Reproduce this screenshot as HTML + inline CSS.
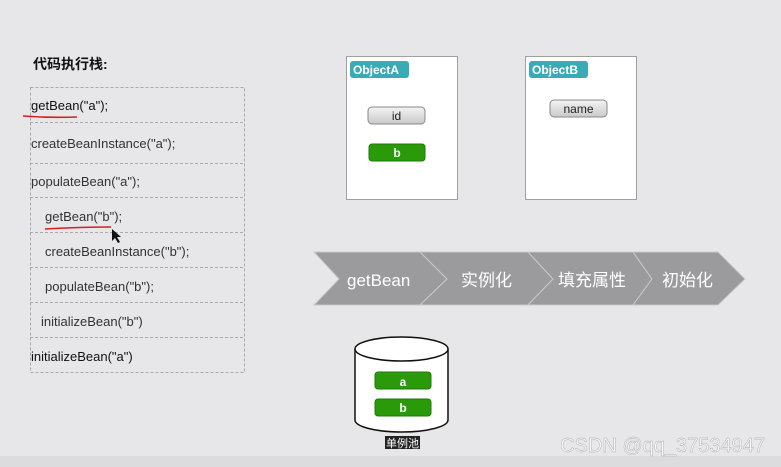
<!DOCTYPE html>
<html><head><meta charset="utf-8"><style>
html,body{margin:0;padding:0;background:#e7e6e9;}
svg{display:block;}
text{font-family:"Liberation Sans","Noto Sans CJK SC",sans-serif;}
</style></head><body>
<svg width="781" height="467" viewBox="0 0 781 467" xmlns="http://www.w3.org/2000/svg">
<defs>
<linearGradient id="gb" x1="0" y1="0" x2="0" y2="1"><stop offset="0" stop-color="#f4f4f4"/><stop offset="1" stop-color="#c9c9c9"/></linearGradient>
</defs>
<rect width="781" height="467" fill="#e7e6e9"/>
<rect y="456" width="781" height="11" fill="#dcdbde"/>
<text x="33" y="69" font-size="14" font-weight="bold" fill="#111">代码执行栈:</text>
<g fill="none" stroke="#a9a9a9" stroke-dasharray="3,2" stroke-width="1">
<rect x="30.5" y="87.5" width="214" height="285"/>
<line x1="30" y1="122.5" x2="245" y2="122.5"/>
<line x1="30" y1="163.5" x2="245" y2="163.5"/>
<line x1="30" y1="197.5" x2="245" y2="197.5"/>
<line x1="30" y1="232.5" x2="245" y2="232.5"/>
<line x1="30" y1="267.5" x2="245" y2="267.5"/>
<line x1="30" y1="302.5" x2="245" y2="302.5"/>
<line x1="30" y1="337.5" x2="245" y2="337.5"/>
</g>
<g font-size="13" fill="#333">
<text x="31" y="110" fill="#111">getBean("a");</text>
<text x="31" y="148">createBeanInstance("a");</text>
<text x="31" y="186">populateBean("a");</text>
<text x="45" y="221">getBean("b");</text>
<text x="45" y="256">createBeanInstance("b");</text>
<text x="45" y="291">populateBean("b");</text>
<text x="41" y="326">initializeBean("b")</text>
<text x="31" y="361" fill="#111">initializeBean("a")</text>
</g>
<path d="M23 116 Q50 118 77 117" stroke="#d42020" stroke-width="1.6" fill="none"/>
<path d="M45 229 Q80 227 111 227" stroke="#d42020" stroke-width="1.6" fill="none"/>
<path d="M112 229 L112 241 L115 238 L118 243 L120 242 L117 237 L121 237 Z" fill="#111"/>
<rect x="346.5" y="56.5" width="111" height="143" fill="#fff" stroke="#a0a0a0"/>
<rect x="350" y="61" width="59" height="17" rx="3" fill="#3aabb5"/>
<text x="353" y="74" font-size="12" font-weight="bold" fill="#fff">ObjectA</text>
<rect x="368" y="107" width="57" height="17" rx="4" fill="url(#gb)" stroke="#888"/>
<text x="396.5" y="120" font-size="12" fill="#222" text-anchor="middle">id</text>
<rect x="369" y="144" width="56" height="17" rx="3" fill="#2a9a0a" stroke="#1f7a08"/>
<text x="397" y="157" font-size="12" font-weight="bold" fill="#fff" text-anchor="middle">b</text>
<rect x="525.5" y="56.5" width="111" height="143" fill="#fff" stroke="#a0a0a0"/>
<rect x="529" y="61" width="59" height="17" rx="3" fill="#3aabb5"/>
<text x="532" y="74" font-size="12" font-weight="bold" fill="#fff">ObjectB</text>
<rect x="550" y="100" width="57" height="17" rx="4" fill="url(#gb)" stroke="#888"/>
<text x="578.5" y="113" font-size="12" fill="#222" text-anchor="middle">name</text>
<g fill="#9b9a9c" stroke="#c9c8cb" stroke-width="1">
<path d="M314 252 L420 252 L447 279 L420 305 L314 305 L339 279 Z"/>
<path d="M420 252 L528 252 L553 279 L528 305 L420 305 L447 279 Z"/>
<path d="M528 252 L633 252 L652 279 L633 305 L528 305 L553 279 Z"/>
<path d="M633 252 L718 252 L745 279 L718 305 L633 305 L652 279 Z" />
</g>
<g font-size="17" fill="#fff">
<text x="347" y="286">getBean</text>
<text x="461" y="286">实例化</text>
<text x="558" y="286">填充属性</text>
<text x="662" y="286">初始化</text>
</g>
<path d="M355 349 L355 420 A46.5 12 0 0 0 448 420 L448 349" fill="#fff" stroke="#111" stroke-width="1.5"/>
<ellipse cx="401.5" cy="349" rx="46.5" ry="12" fill="#fff" stroke="#111" stroke-width="1.5"/>
<rect x="375" y="372" width="56" height="17" rx="3" fill="#2a9a0a" stroke="#1f7a08"/>
<text x="403" y="386" font-size="12" font-weight="bold" fill="#fff" text-anchor="middle">a</text>
<rect x="375" y="399" width="56" height="17" rx="3" fill="#2a9a0a" stroke="#1f7a08"/>
<text x="403" y="412" font-size="12" font-weight="bold" fill="#fff" text-anchor="middle">b</text>
<rect x="385" y="436" width="35" height="13" fill="#222"/>
<text x="402.5" y="447" font-size="11" fill="#fff" text-anchor="middle">单例池</text>
<text x="765" y="452" font-size="20" fill="#f6f6f6" stroke="#a8a8a8" stroke-width="0.4" text-anchor="end">CSDN @qq_37534947</text>
</svg>
</body></html>
